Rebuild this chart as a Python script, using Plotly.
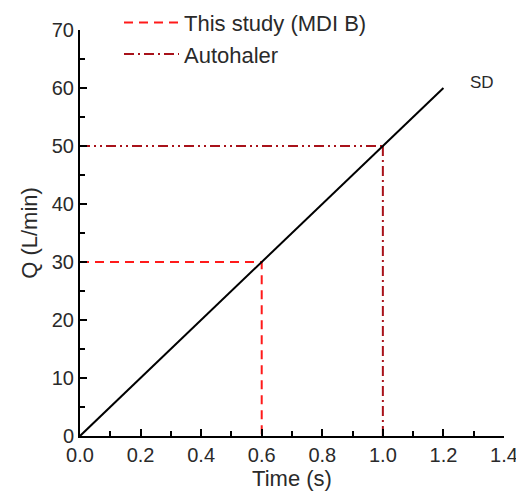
import plotly.graph_objects as go

# Data
sd_time = [0.0, 1.2]
sd_q = [0.0, 60.0]
study_time = [0.0, 0.6, 0.6]
study_q = [30.0, 30.0, 0.0]
auto_h_time = [0.0, 1.0]
auto_h_q = [50.0, 50.0]
auto_v_time = [1.0, 1.0]
auto_v_q = [50.0, 0.0]
x_ticks = [0.0, 0.2, 0.4, 0.6, 0.8, 1.0, 1.2, 1.4]
y_ticks = [0, 10, 20, 30, 40, 50, 60, 70]

RED = "#FF1A1A"
DARKRED = "#A8121A"
FONT = "Liberation Sans, Arial, sans-serif"
TXT = "#2a2a2a"

fig = go.Figure()
fig.add_trace(go.Scatter(x=study_time, y=study_q, mode="lines", name="This study (MDI B)",
                         line=dict(color=RED, width=2, dash="9px,6px"),
                         legendgroup="a", cliponaxis=False))
fig.add_trace(go.Scatter(x=auto_v_time, y=auto_v_q, mode="lines", name="Autohaler",
                         line=dict(color=DARKRED, width=2, dash="10px,4px,2px,4px"),
                         legendgroup="b", cliponaxis=False))
fig.add_trace(go.Scatter(x=auto_h_time, y=auto_h_q, mode="lines", showlegend=False,
                         line=dict(color=DARKRED, width=2, dash="10px,4px,2px,4px,2px,4px"),
                         legendgroup="b", cliponaxis=False))
fig.add_trace(go.Scatter(x=sd_time, y=sd_q, mode="lines", showlegend=False,
                         line=dict(color="black", width=2), cliponaxis=False))

fig.add_annotation(x=1.2, y=60, text="SD", showarrow=False, xanchor="left", yanchor="middle",
                   xshift=25, yshift=6, font=dict(size=17, color=TXT, family=FONT))

axis_common = dict(showline=True, linecolor="black", linewidth=2, ticks="inside",
                   ticklen=7, tickwidth=2, tickcolor="black", showgrid=False, zeroline=False,
                   mirror=False, tickfont=dict(size=20, color=TXT, family=FONT))

fig.update_xaxes(range=[0, 1.4], tickvals=x_ticks, ticktext=[f"{v:.1f}" for v in x_ticks],
                 title=dict(text="Time (s)", font=dict(size=22, color=TXT, family=FONT), standoff=0),
                 minor=dict(dtick=0.1, ticks="inside", ticklen=5, tickwidth=2, tickcolor="black"),
                 **axis_common)
fig.update_yaxes(range=[0, 70], tickvals=y_ticks,
                 title=dict(text="Q (L/min)", font=dict(size=22, color=TXT, family=FONT), standoff=8),
                 minor=dict(dtick=5, ticks="inside", ticklen=5, tickwidth=2, tickcolor="black"),
                 **axis_common)

# page body has an 8px margin, so the figure is made 8px smaller and margins offset
fig.update_layout(
    width=516, height=485,
    margin=dict(l=72, r=20, t=22, b=57, autoexpand=False),
    plot_bgcolor="white", paper_bgcolor="white",
    font=dict(family=FONT, color=TXT),
    legend=dict(x=0.092, y=1.07, xanchor="left", yanchor="top", itemwidth=55,
                font=dict(size=22, color=TXT, family=FONT),
                bgcolor="rgba(0,0,0,0)", traceorder="grouped", tracegroupgap=0),
)

fig.write_html("out.html")
